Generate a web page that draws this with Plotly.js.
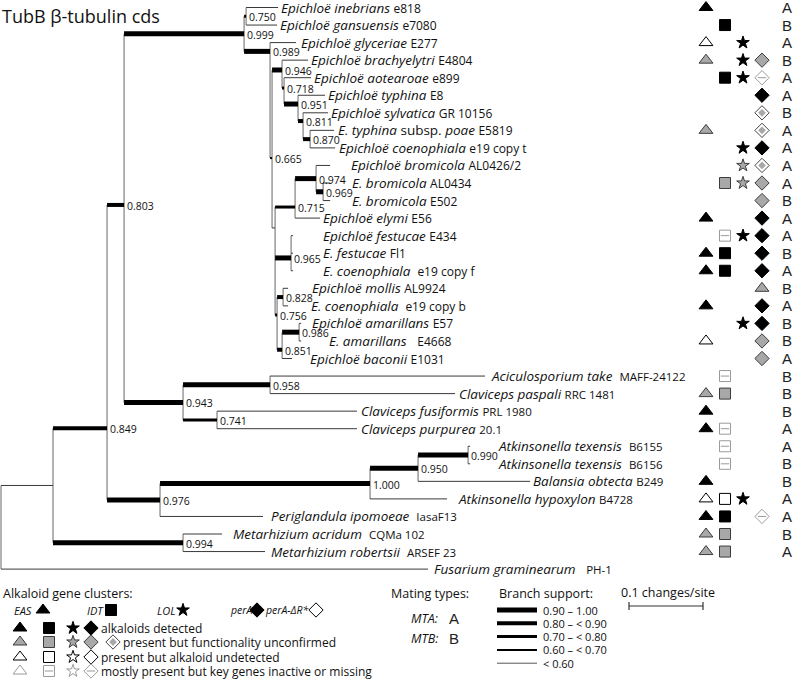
<!DOCTYPE html>
<html><head><meta charset="utf-8">
<script src="https://cdn.plot.ly/plotly-3.0.1.min.js"></script>
<style>html,body{margin:0;padding:0;background:#fff}#chart{width:793px;height:681px}</style>
</head><body><div id="chart"></div>
<script>
// ---------------- DATA ----------------
// tree: node id, parent, branch length (changes/site), support
const nodeIds = ['root','nA','nB','nC','nEpi','n750','n989','n665','n946','n718','n951','n811','n870','nY','n715','n974','n969','n965','n756','n828','n851','n986','n943','n958','n741','n976','n1000','n950','n990','nMet',
  'L0','L1','L2','L3','L4','L5','L6','L7','L8','L9','L10','L11','L12','L13','L14','L15','L16','L17','L18','L19','L20','L21','L22','L23','L24','L25','L26','L27','L28','L29','L30','L31','L32'];
const nodeParent = [null,'root','nA','nB','nC','nEpi','nEpi','n989','n665','n946','n718','n951','n811','n665','nY','n715','n974','nY','nY','n756','n756','n851','nC','n943','n943','nB','n976','n1000','n950','nA',
  'n750','n750','n989','n946','n718','n951','n811','n870','n870','n974','n969','n969','n715','n965','n965','n965','n828','n828','n986','n986','n851','n958','n958','n741','n741','n990','n990','n950','n1000','n976','nMet','nMet','root'];
const branchLength = [0,0.0703,0.0730,0.0230,0.1622,0.0027,0.0351,0.0027,0.0135,0.0027,0.0189,0.0068,0.0095,0.0041,0.0270,0.0284,0.0095,0.0216,0.0027,0.0081,0.0068,0.0230,0.0797,0.1176,0.0459,0.0716,0.2838,0.0649,0.0676,0.1757,
  0.0432,0.0419,0.0351,0.0351,0.0365,0.0365,0.0338,0.0324,0.0338,0.0189,0.0095,0.0095,0.0338,0.0027,0.0027,0.0027,0.0068,0.0068,0.0027,0.0027,0.0135,0.2905,0.2500,0.1892,0.1892,0.0027,0.0027,0.1514,0.1041,0.1392,0.0527,0.1108,0.5770];
const nodeSupport = [null,null,0.849,0.803,0.999,0.750,0.989,0.665,0.946,0.718,0.951,0.811,0.870,null,0.715,0.974,0.969,0.965,0.756,0.828,0.851,0.986,0.943,0.958,0.741,0.976,1.000,0.950,0.990,0.994];

// leaves in display order (top to bottom)
const leafIds = ['L0','L1','L2','L3','L4','L5','L6','L7','L8','L9','L10','L11','L12','L13','L14','L15','L16','L17','L18','L19','L20','L21','L22','L23','L24','L25','L26','L27','L28','L29','L30','L31','L32'];
const leafSpecies = ['<i>Epichloë inebrians</i>','<i>Epichloë gansuensis</i>','<i>Epichloë glyceriae</i>','<i>Epichloë brachyelytri</i>','<i>Epichloë aotearoae</i>','<i>Epichloë typhina</i>','<i>Epichloë sylvatica</i>','<i>E. typhina</i> subsp. <i>poae</i>','<i>Epichloë coenophiala</i>','<i>Epichloë bromicola</i>','<i>E. bromicola</i>','<i>E. bromicola</i>','<i>Epichloë elymi</i>','<i>Epichloë festucae</i>','<i>E. festucae</i>','<i>E. coenophiala</i>','<i>Epichloë mollis</i>','<i>E. coenophiala</i>','<i>Epichloë amarillans</i>','<i>E. amarillans</i>','<i>Epichloë baconii</i>','<i>Aciculosporium take</i>','<i>Claviceps paspali</i>','<i>Claviceps fusiformis</i>','<i>Claviceps purpurea</i>','<i>Atkinsonella texensis</i>','<i>Atkinsonella texensis</i>','<i>Balansia obtecta</i>','<i>Atkinsonella hypoxylon</i>','<i>Periglandula ipomoeae</i>','<i>Metarhizium acridum</i>','<i>Metarhizium robertsii</i>','<i>Fusarium graminearum</i>'];
const leafStrain = ['e818','e7080','E277','E4804','e899','E8','GR 10156','E5819','e19 copy t','AL0426/2','AL0434','E502','E56','E434','Fl1','e19 copy f','AL9924','e19 copy b','E57','E4668','E1031','MAFF-24122','RRC 1481','PRL 1980','20.1','B6155','B6156','B249','B4728','IasaF13','CQMa 102','ARSEF 23','PH-1'];
const matingType = ['A','B','A','B','A','A','B','A','A','A','A','B','A','A','B','A','B','A','B','B','A','B','B','B','A','A','B','B','A','A','B','A','AB'];
// F = alkaloids detected, G = functionality unconfirmed, O = alkaloid undetected,
// P = key genes inactive/missing, D = perA-ΔR* unconfirmed, T = EAS unconfirmed (in perA column)
const easState  = ['F','','O','G','','','','G','','','','','F','','F','F','','F','','O','','','G','F','F','','','F','O','F','G','G',''];
const idtState  = ['','F','','','F','','','','','','G','','','P','F','F','','','','','','P','G','','P','P','P','','O','F','G','G',''];
const lolState  = ['','','F','F','F','','','','F','G','G','','','F','','','','','F','','','','','','','','','','F','','','',''];
const perAState = ['','','','G','P','F','D','D','F','D','G','G','F','F','F','F','T','F','F','G','G','','','','','','','','','P','','',''];

const supportClasses = ['0.90 – 1.00','0.80 – < 0.90','0.70 – < 0.80','0.60 – < 0.70','< 0.60'];
const supportWidths = [5,4,3,2,1];
const scaleBarLength = 0.1;

// ---------------- LAYOUT ----------------
const PX = 740, X0 = 1, ROW0 = 7.5, DY = 17.55;
const rowOverride = {nB:23.97, n989:2.5, nC:11.25, n946:3.56, n718:4.59, n951:5.5, n811:6.47, n665:8.58, nY:12.56, n715:11.37, n965:14.27, n756:17.52, n851:19.5};
const labelGap = [2,2,4,2,2,2,2,3,3,20,21,21,2,29,29,29,23,22,10,27,17,5,3,3,3,27,27,2,10,7,10,5,5];
const strainSep = ['\u00a0','\u00a0','\u00a0','\u00a0','\u00a0','\u00a0','\u00a0','\u00a0','\u00a0','\u00a0','\u00a0','\u00a0','\u00a0','\u00a0','\u00a0','\u00a0\u00a0','\u00a0','\u00a0\u00a0','\u00a0','\u00a0\u00a0\u00a0','\u00a0','\u00a0\u00a0','\u00a0','\u00a0','\u00a0','\u00a0\u00a0','\u00a0\u00a0','\u00a0','\u00a0','\u00a0\u00a0','\u00a0\u00a0','\u00a0\u00a0','\u00a0\u00a0\u00a0'];
const colX = {eas:706, idt:725, lol:743, perA:762, mt:787};
const FONT = 'Open Sans, Noto Sans, sans-serif';

const idx = {}; nodeIds.forEach((id,i)=>idx[id]=i);
const children = {}; nodeIds.forEach(id=>children[id]=[]);
nodeIds.forEach((id,i)=>{ if(nodeParent[i]) children[nodeParent[i]].push(id); });
const X = {}, Y = {};
(function setX(id,d){ X[id]=d; children[id].forEach(c=>setX(c,d+branchLength[idx[c]])); })('root',0);
leafIds.forEach((id,r)=>Y[id]=r);
(function setY(id){
  if(Y[id]!==undefined) return Y[id];
  const cs = children[id].map(setY);
  let y = (Math.min(...cs)+Math.max(...cs))/2;
  if(rowOverride[id]!==undefined) y = rowOverride[id];
  Y[id]=y; return y;
})('root');
const px = d => X0 + d*PX;
const py = r => ROW0 + r*DY;

function widthFor(s){ if(s==null) return 1; if(s>=0.9) return 5; if(s>=0.8) return 4; if(s>=0.7) return 3; if(s>=0.6) return 2; return 1; }

const traces = [];
// vertical connectors
const vx=[], vy=[];
nodeIds.forEach(id=>{
  const cs = children[id]; if(!cs.length) return;
  const ys = cs.map(c=>Y[c]).concat([Y[id]]);
  vx.push(px(X[id]),px(X[id]),null); vy.push(py(Math.min(...ys)),py(Math.max(...ys)),null);
});
traces.push({x:vx,y:vy,mode:'lines',line:{color:'#808080',width:1.2},hoverinfo:'skip'});
// horizontal branches grouped by width
const groups = {};
nodeIds.forEach((id,i)=>{
  const p = nodeParent[i]; if(!p) return;
  const w = widthFor(nodeSupport[i]);
  (groups[w] = groups[w] || {x:[],y:[]});
  groups[w].x.push(px(X[p]),px(X[id]),null); groups[w].y.push(py(Y[id]),py(Y[id]),null);
});
Object.keys(groups).sort((a,b)=>a-b).forEach(w=>{
  traces.push({x:groups[w].x,y:groups[w].y,mode:'lines',line:{color:w>1?'#000':'#3a3a3a',width:+w},hoverinfo:'skip'});
});

// symbol styles
const shapes = {eas:'triangle-up', idt:'square', lol:'star', perA:'diamond'};
const sizes = {eas:12, idt:11, lol:9.5, perA:11};
function styleFor(col, st){
  const base = {symbol:shapes[col], size:sizes[col]};
  if(st==='F') return [{...base,color:'#000',line:{color:'#000',width:1}}];
  if(st==='G') return [{...base,color:'#a8a8a8',line:{color:'#3c3c3c',width:1}}];
  if(st==='O') return [{...base,color:'#fff',line:{color:'#000',width:1}}];
  if(st==='T') return [{symbol:'triangle-up',size:12,color:'#a8a8a8',line:{color:'#3c3c3c',width:1}}];
  if(st==='D') return [{...base,color:'#fff',line:{color:'#444',width:1}},{symbol:'diamond',size:6,color:'#a8a8a8',line:{width:0}}];
  if(st==='P'){
    const out=[{...base,color:'#fff',line:{color:'#9a9a9a',width:1}}];
    if(col==='idt'||col==='perA') out.push({symbol:'line-ew',size:6,color:'#9a9a9a',line:{color:'#9a9a9a',width:1}});
    return out;
  }
  return [];
}
function addSymbols(col, states, xs, ys){
  const byState = {};
  states.forEach((st,i)=>{ if(!st) return; (byState[st]=byState[st]||{x:[],y:[]}); byState[st].x.push(xs[i]); byState[st].y.push(ys[i]); });
  Object.keys(byState).forEach(st=>{
    styleFor(col,st).forEach(m=>{
      traces.push({x:byState[st].x,y:byState[st].y,mode:'markers',marker:m,hoverinfo:'skip'});
    });
  });
}
const rowsY = leafIds.map((id,r)=>py(r));
addSymbols('eas', easState, easState.map(()=>colX.eas), rowsY);
addSymbols('idt', idtState, idtState.map(()=>colX.idt), rowsY);
addSymbols('lol', lolState, lolState.map(()=>colX.lol), rowsY);
addSymbols('perA', perAState, perAState.map(()=>colX.perA), rowsY);

const ann = [];
function txt(x,y,text,size,opts){ ann.push(Object.assign({x,y,xref:'x',yref:'y',text,showarrow:false,xanchor:'left',yanchor:'middle',font:{family:FONT,size:size,color:'#111'}},opts||{})); }

// leaf labels
leafIds.forEach((id,r)=>{
  const small = r>=21 ? 11.5 : 12;
  txt(px(X[id])+labelGap[r]-1, py(r), leafSpecies[r]+strainSep[r]+'<span style="font-size:'+small+'px">'+leafStrain[r]+'</span>', 13.5);
  const mt = matingType[r];
  ann.push({x:mt==='AB'?794:colX.mt,y:py(r),xref:'x',yref:'y',text:mt==='AB'?'A B':mt,showarrow:false,xanchor:mt==='AB'?'right':'center',yanchor:'middle',font:{family:'Liberation Sans, Arial, sans-serif',size:15,color:'#222'}});
});
// support labels
nodeIds.forEach((id,i)=>{
  if(nodeSupport[i]==null) return;
  txt(px(X[id])+1, py(Y[id])+1, nodeSupport[i].toFixed(3), 10.5);
});

// title
txt(0, 16, 'TubB β-tubulin cds', 18);

// ---- legend: alkaloid gene clusters
txt(1, 593, 'Alkaloid gene clusters:', 12.5);
txt(12, 610, '<i>EAS</i>', 11); txt(85, 610, '<i>IDT</i>', 11); txt(155, 610, '<i>LOL</i>', 11); txt(228, 610, '<i>perA</i>', 10.5); txt(263, 610, '<i>perA-ΔR*</i>', 10.5);
addSymbols('eas',['F'],[43],[610]); addSymbols('idt',['F'],[111],[610]); addSymbols('lol',['F'],[183],[610]); addSymbols('perA',['F'],[257],[610]); addSymbols('perA',['O'],[316],[610]);
const legRows = [628, 642, 657, 671];
const legStates = ['F','G','O','P'];
legStates.forEach((st,k)=>{
  addSymbols('eas',[st],[20],[legRows[k]]);
  addSymbols('idt',[st],[49],[legRows[k]]);
  addSymbols('lol',[st],[73],[legRows[k]]);
  addSymbols('perA',[st],[91],[legRows[k]]);
});
addSymbols('perA',['D'],[113],[642]);
txt(99, 628, 'alkaloids detected', 12);
txt(121, 642, 'present but functionality unconfirmed', 12);
txt(99, 657, 'present but alkaloid undetected', 12);
txt(99, 671, 'mostly present but key genes inactive or missing', 12);

// ---- mating types
txt(389, 593, 'Mating types:', 12.5);
txt(409, 618, '<i>MTA:</i>', 12.5); txt(409, 638, '<i>MTB:</i>', 12.5);
ann.push({x:454,y:618,xref:'x',yref:'y',text:'A',showarrow:false,xanchor:'center',yanchor:'middle',font:{family:'Liberation Sans, Arial, sans-serif',size:15,color:'#222'}});
ann.push({x:454,y:638,xref:'x',yref:'y',text:'B',showarrow:false,xanchor:'center',yanchor:'middle',font:{family:'Liberation Sans, Arial, sans-serif',size:15,color:'#222'}});

// ---- branch support legend
txt(497, 593, 'Branch support:', 12.5);
supportClasses.forEach((lab,k)=>{
  const yy = 610 + k*13.3;
  traces.push({x:[497,537],y:[yy,yy],mode:'lines',line:{color:supportWidths[k]>1?'#000':'#555',width:supportWidths[k]},hoverinfo:'skip'});
  txt(541, yy, lab, 11);
});

// ---- scale bar
txt(619, 592, '0.1 changes/site', 12.5);
const sb0 = 629;
traces.push({x:[sb0, sb0+scaleBarLength*PX],y:[606,606],mode:'lines',line:{color:'#333',width:1.2},hoverinfo:'skip'});
traces.push({x:[sb0,sb0,null,sb0+scaleBarLength*PX,sb0+scaleBarLength*PX],y:[602,610,null,602,610],mode:'lines',line:{color:'#333',width:1.2},hoverinfo:'skip'});

const layout = {
  width:793, height:681, margin:{l:0,r:0,t:0,b:0}, showlegend:false,
  paper_bgcolor:'#fff', plot_bgcolor:'#fff',
  xaxis:{range:[0,793],visible:false,fixedrange:true},
  yaxis:{range:[681,0],visible:false,fixedrange:true},
  annotations: ann
};
Plotly.newPlot('chart', traces, layout, {staticPlot:true});
</script></body></html>
